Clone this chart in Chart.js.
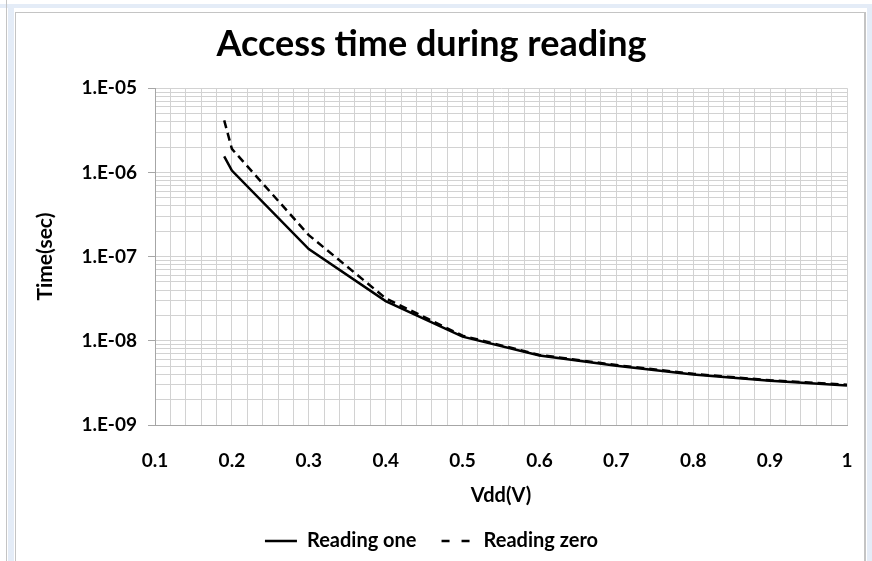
<!DOCTYPE html>
<html><head><meta charset="utf-8">
<script src="https://cdn.jsdelivr.net/npm/chart.js@4.4.0/dist/chart.umd.min.js"></script>
<style>html,body{margin:0;padding:0;background:#fff;overflow:hidden;} #wrap{position:relative;width:872px;height:561px;}</style>
</head><body><div id="wrap"><canvas id="c" width="872" height="561"></canvas></div>
<script>
// ---- data ----
const vdd = [0.19, 0.2, 0.3, 0.4, 0.5, 0.6, 0.7, 0.8, 0.9, 1.0];
const readingOne = [1.55e-6, 1.05e-6, 1.23e-7, 2.96e-8, 1.12e-8, 6.7e-9, 5.07e-9, 3.98e-9, 3.35e-9, 2.95e-9];
const readingZero = [4.15e-6, 1.9e-6, 1.8e-7, 3.2e-8, 1.15e-8, 6.8e-9, 5.15e-9, 4.05e-9, 3.4e-9, 3.0e-9];
const seriesNames = ['Reading one', 'Reading zero'];
const xTickValues = [0.1, 0.2, 0.3, 0.4, 0.5, 0.6, 0.7, 0.8, 0.9, 1.0];
const xTickLabels = ['0.1', '0.2', '0.3', '0.4', '0.5', '0.6', '0.7', '0.8', '0.9', '1'];
const yTickValues = [1e-9, 1e-8, 1e-7, 1e-6, 1e-5];
const yTickLabels = ['1.E-09', '1.E-08', '1.E-07', '1.E-06', '1.E-05'];

const FONT = 'Lato, "Open Sans", "DejaVu Sans", sans-serif';

// grid positions (minor lines between labelled ticks)
const xGrid = [];
for (let i = 0; i < xTickValues.length - 1; i++) {
  for (let k = 0; k < 5; k++) xGrid.push(xTickValues[i] + (xTickValues[i + 1] - xTickValues[i]) * k / 5);
}
xGrid.push(xTickValues[xTickValues.length - 1]);
const yGrid = [];
for (let i = 0; i < yTickValues.length - 1; i++) {
  for (let k = 1; k < 10; k++) yGrid.push(yTickValues[i] * k);
}
yGrid.push(yTickValues[yTickValues.length - 1]);

function findLabel(values, labels, v) {
  for (let i = 0; i < values.length; i++) {
    if (Math.abs(values[i] - v) <= Math.abs(values[i]) * 1e-6) return labels[i];
  }
  return '';
}

const framePlugin = {
  id: 'frame',
  beforeDraw(chart) {
    const ctx = chart.ctx;
    ctx.save();
    ctx.fillStyle = '#ffffff';
    ctx.fillRect(0, 0, chart.width, chart.height);
    ctx.fillStyle = '#e4ecf7';
    ctx.fillRect(0, 4, chart.width, 4);
    ctx.fillRect(8, 4, 6, chart.height);
    ctx.fillRect(867, 4, 5, chart.height);
    ctx.fillStyle = '#c4c4c4';
    ctx.fillRect(6, 0, 1, chart.height);
    ctx.fillRect(15, 12, 1, chart.height);
    ctx.fillRect(15, 12, 851, 1);
    ctx.fillRect(864, 12, 2, chart.height);
    ctx.restore();
  }
};

const legendDash = [[], [8, 12]];

new Chart(document.getElementById('c'), {
  type: 'line',
  data: {
    datasets: [
      {
        label: seriesNames[0],
        data: vdd.map((x, i) => ({ x: x, y: readingOne[i] })),
        borderColor: '#000', backgroundColor: '#000',
        borderWidth: 2.5, pointRadius: 0, tension: 0, fill: false
      },
      {
        label: seriesNames[1],
        data: vdd.map((x, i) => ({ x: x, y: readingZero[i] })),
        borderColor: '#000', backgroundColor: '#000',
        borderWidth: 2.5, borderDash: [8, 5], pointRadius: 0, tension: 0, fill: false
      }
    ]
  },
  options: {
    responsive: false,
    animation: false,
    devicePixelRatio: 1,
    layout: { padding: { left: 16, top: 13, right: 25, bottom: 0 } },
    plugins: {
      title: {
        display: true, text: 'Access time during reading', color: '#000',
        font: { family: FONT, size: 36, weight: 'bold' },
        padding: { top: 10, bottom: 22 }
      },
      legend: {
        position: 'bottom', maxHeight: 57,
        labels: {
          usePointStyle: true, pointStyle: 'line', pointStyleWidth: 32,
          padding: 25, color: '#000',
          font: { family: FONT, size: 20, weight: 'bold' },
          generateLabels: (chart) => Chart.defaults.plugins.legend.labels.generateLabels(chart).map((it, i) => {
            it.lineDash = legendDash[i];
            it.lineWidth = 2.5;
            it.strokeStyle = '#000';
            return it;
          })
        }
      },
      tooltip: { enabled: false }
    },
    scales: {
      x: {
        type: 'linear', min: xTickValues[0], max: xTickValues[xTickValues.length - 1],
        afterBuildTicks: (s) => { s.ticks = xGrid.map(v => ({ value: v })); },
        afterFit: (s) => { s.height = 81; },
        ticks: {
          autoSkip: false, maxRotation: 0, padding: 4, color: '#000',
          font: { family: FONT, size: 19, weight: 'bold' },
          callback: (v) => findLabel(xTickValues, xTickLabels, v)
        },
        grid: { color: '#d2d2d2', drawTicks: true, tickLength: 20, tickColor: 'rgba(0,0,0,0)' },
        border: { color: '#a6a6a6' },
        title: {
          display: true, text: 'Vdd(V)', color: '#000',
          font: { family: FONT, size: 20, weight: 'bold', lineHeight: 1 },
          padding: { top: 0, bottom: 0 }
        }
      },
      y: {
        type: 'logarithmic', min: yTickValues[0], max: yTickValues[yTickValues.length - 1],
        afterBuildTicks: (s) => { s.ticks = yGrid.map(v => ({ value: v })); },
        afterFit: (s) => { s.width = 139; },
        ticks: {
          autoSkip: false, padding: 11, color: '#000',
          font: { family: FONT, size: 19, weight: 'bold' },
          callback: (v) => findLabel(yTickValues, yTickLabels, v)
        },
        grid: {
          color: '#d2d2d2', tickLength: 7,
          tickColor: (ctx) => (ctx.tick && findLabel(yTickValues, yTickLabels, ctx.tick.value) !== '') ? '#a6a6a6' : 'rgba(0,0,0,0)'
        },
        border: { color: '#a6a6a6' },
        title: {
          display: true, text: 'Time(sec)', color: '#000',
          font: { family: FONT, size: 21, weight: 'bold' },
          padding: { top: 17, bottom: 0 }
        }
      }
    }
  },
  plugins: [framePlugin]
});
</script>
</body></html>
